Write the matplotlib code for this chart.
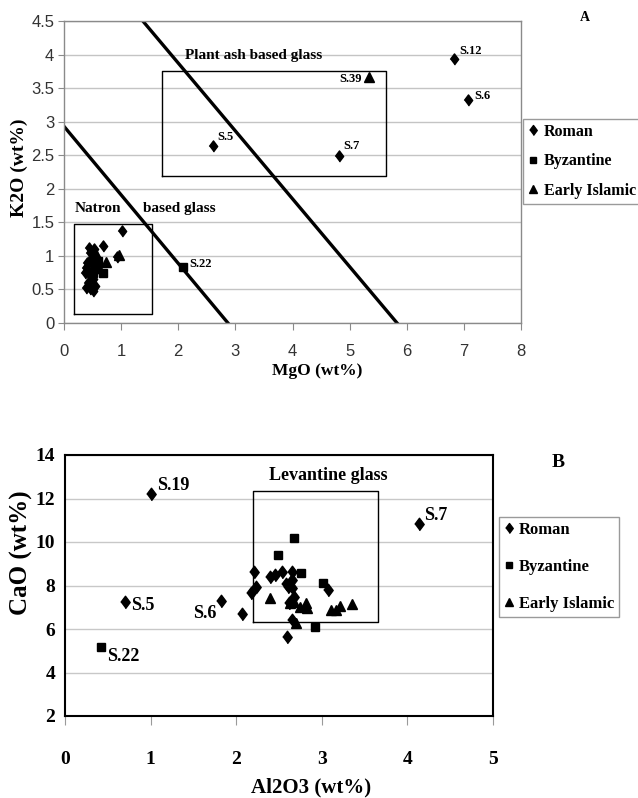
import matplotlib
matplotlib.use('Agg')
import matplotlib.pyplot as plt
from matplotlib import font_manager
from matplotlib.ticker import FuncFormatter

# fonts: Times-like serif for annotations, narrow sans for panel A ticks
_names = {f.name for f in font_manager.fontManager.ttflist}
SANS = 'Liberation Sans Narrow' if 'Liberation Sans Narrow' in _names else 'Liberation Sans'
SERIF = 'Liberation Serif'
plt.rcParams['font.family'] = [SERIF, 'DejaVu Serif']

# ---- Panel A data: MgO vs K2O (wt%) ----
roman_mgo = [0.45, 0.52, 0.55, 0.48, 0.40, 0.38, 0.42, 0.50, 0.60, 0.45, 0.50, 0.42,
             0.38, 0.45, 0.50, 0.55, 0.36, 0.44, 1.02, 0.92, 0.69, 2.61, 4.82, 6.83, 7.08]
roman_k2o = [1.05, 1.10, 1.00, 0.95, 0.90, 0.82, 0.78, 0.85, 0.88, 0.70, 0.65, 0.60,
             0.52, 0.50, 0.47, 0.55, 0.75, 1.12, 1.37, 0.99, 1.14, 2.64, 2.49, 3.93, 3.32]
byz_mgo = [0.69, 0.55, 0.60, 0.50, 2.08]
byz_k2o = [0.74, 0.80, 0.92, 0.75, 0.83]
isl_mgo = [0.97, 0.73, 0.58, 0.62, 5.34]
isl_k2o = [1.02, 0.91, 1.00, 0.82, 3.66]

# boundary lines (MgO, K2O end points)
natron_line_x = [0.0, 2.87]
natron_line_y = [2.93, 0.0]
plant_line_x = [1.38, 5.83]
plant_line_y = [4.5, 0.0]

# field boxes: (x0, x1, y0, y1)
natron_box = (0.18, 1.54, 0.13, 1.48)
plant_box = (1.72, 5.64, 2.19, 3.76)

labels_a = ['S.12', 'S.6', 'S.39', 'S.5', 'S.7', 'S.22']
labels_a_xy = [(6.83, 3.93), (7.08, 3.32), (5.34, 3.66), (2.61, 2.64), (4.82, 2.49), (2.08, 0.83)]

# ---- Panel B data: Al2O3 vs CaO (wt%) ----
roman_al = [1.00, 0.70, 1.82, 2.07, 2.21, 2.23, 2.17, 2.39, 2.45, 2.53, 2.58, 2.61,
            2.65, 2.65, 2.65, 2.62, 2.68, 2.65, 2.59, 3.07, 4.13]
roman_ca = [12.19, 7.23, 7.30, 6.70, 8.61, 7.95, 7.67, 8.40, 8.48, 8.61, 8.07, 7.95,
            8.61, 8.25, 7.87, 7.20, 7.45, 6.41, 5.65, 7.79, 10.81]
byz_al = [0.42, 2.49, 2.68, 2.76, 2.92, 3.01]
byz_ca = [5.16, 9.40, 10.17, 8.56, 6.08, 8.10]
isl_al = [2.39, 2.63, 2.68, 2.74, 2.81, 2.83, 2.70, 3.11, 3.17, 3.21, 3.35]
isl_ca = [7.41, 7.18, 7.25, 7.02, 7.18, 6.95, 6.26, 6.87, 6.87, 7.06, 7.15]

levantine_box = (2.20, 3.66, 6.34, 12.36)

labels_b = ['S.19', 'S.5', 'S.22', 'S.6', 'S.7']
labels_b_xy = [(1.00, 12.19), (0.70, 7.23), (0.42, 5.16), (1.82, 7.30), (4.13, 10.81)]

series = ['Roman', 'Byzantine', 'Early Islamic']

DIAMOND = [(-0.75, 0), (0, 1), (0.75, 0), (0, -1)]
PX = 0.72  # pixels -> points at 100 dpi


def draw_box(ax, box, lw):
    x0, x1, y0, y1 = box
    ax.plot([x0, x1, x1, x0, x0], [y0, y0, y1, y1, y0], color='black', lw=lw, zorder=2)


fig = plt.figure(figsize=(6.38, 7.98), dpi=100)

# ================= Panel A =================
ax1 = fig.add_axes([64 / 638, 1 - 323 / 798, 457 / 638, 302 / 798])
ax1.set_xlim(0, 8)
ax1.set_ylim(0, 4.5)
ax1.set_xticks(range(0, 9))
ax1.set_yticks([i * 0.5 for i in range(10)])
ax1.yaxis.set_major_formatter(FuncFormatter(lambda v, p: f'{v:g}'))
ax1.grid(axis='y', color='#c4c4c4', lw=1.0)
ax1.set_axisbelow(True)
for s in ax1.spines.values():
    s.set_color('#8a8a8a')
    s.set_linewidth(1.0)
ax1.tick_params(axis='x', length=5, color='#8a8a8a', pad=10, labelsize=12, labelcolor='#333333')
ax1.tick_params(axis='y', length=4, color='#8a8a8a', pad=3, labelsize=12, labelcolor='#333333')
for t in ax1.get_xticklabels() + ax1.get_yticklabels():
    t.set_family([SANS, 'DejaVu Sans'])

ax1.plot(natron_line_x, natron_line_y, color='black', lw=2.4, zorder=2)
ax1.plot(plant_line_x, plant_line_y, color='black', lw=2.4, zorder=2)
draw_box(ax1, natron_box, 1.0)
draw_box(ax1, plant_box, 1.0)

h1 = ax1.plot(roman_mgo, roman_k2o, ls='none', marker=DIAMOND, ms=8, color='black', zorder=3)[0]
h2 = ax1.plot(byz_mgo, byz_k2o, ls='none', marker='s', ms=5.5, color='black', zorder=3)[0]
h3 = ax1.plot(isl_mgo, isl_k2o, ls='none', marker='^', ms=7, color='black', zorder=3)[0]

offs_a = [(5, 8, 'left'), (6, 4, 'left'), (-7, -2, 'right'), (4, 9, 'left'), (4, 10, 'left'), (6, 3, 'left')]
for lab, (x, y), (dx, dy, ha) in zip(labels_a, labels_a_xy, offs_a):
    ax1.annotate(lab, (x, y), xytext=(dx * PX, dy * PX), textcoords='offset points',
                 ha=ha, va='center', fontsize=9, fontweight='bold')

ax1.text(2.12, 3.99, 'Plant ash based glass', ha='left', va='center', fontsize=11, fontweight='bold')
ax1.text(0.18, 1.71, 'Natron', ha='left', va='center', fontsize=11, fontweight='bold')
ax1.text(1.38, 1.71, 'based glass', ha='left', va='center', fontsize=11, fontweight='bold')
ax1.text(1.14, 1.01, 'A', transform=ax1.transAxes, ha='center', va='center',
         fontsize=10, fontweight='bold', clip_on=False)

ax1.set_xlabel('MgO (wt%)', fontsize=12.5, fontweight='bold', va='center')
ax1.xaxis.set_label_coords((317 - 64) / 457, (323 - 371) / 302)
ax1.set_ylabel('K2O (wt%)', fontsize=14, fontweight='bold', va='center')
ax1.yaxis.set_label_coords((19 - 64) / 457, (323 - 168) / 302)

fig.legend([h1, h2, h3], series, loc='upper left', bbox_to_anchor=(523 / 638, 1 - 119 / 798),
           frameon=True, fancybox=False, edgecolor='#9a9a9a', framealpha=1,
           prop={'family': SERIF, 'weight': 'bold', 'size': 11.5},
           handlelength=0.7, handletextpad=0.3, labelspacing=0.85, borderpad=0.3,
           borderaxespad=0, markerscale=0.9)

# ================= Panel B =================
ax2 = fig.add_axes([65 / 638, 1 - 716 / 798, 428 / 638, 261 / 798])
ax2.set_xlim(0, 5)
ax2.set_ylim(2, 14)
ax2.set_xticks(range(0, 6))
ax2.set_yticks(range(2, 15, 2))
ax2.grid(axis='y', color='#c8c8c8', lw=1.0)
ax2.set_axisbelow(True)
for s in ax2.spines.values():
    s.set_color('black')
    s.set_linewidth(1.5)
ax2.tick_params(axis='x', length=6.5, color='#9a9a9a', pad=19, labelsize=14)
ax2.tick_params(axis='y', length=0, pad=7, labelsize=14)
for t in ax2.get_xticklabels() + ax2.get_yticklabels():
    t.set_fontweight('bold')

draw_box(ax2, levantine_box, 1.0)

g1 = ax2.plot(roman_al, roman_ca, ls='none', marker=DIAMOND, ms=9, color='black', zorder=3)[0]
g2 = ax2.plot(byz_al, byz_ca, ls='none', marker='s', ms=6, color='black', zorder=3)[0]
g3 = ax2.plot(isl_al, isl_ca, ls='none', marker='^', ms=7.5, color='black', zorder=3)[0]

offs_b = [(6, 9, 'left'), (6, -3, 'left'), (6, -9, 'left'), (-4, -13, 'right'), (6, 9, 'left')]
for lab, (x, y), (dx, dy, ha) in zip(labels_b, labels_b_xy, offs_b):
    ax2.annotate(lab, (x, y), xytext=(dx * PX, dy * PX), textcoords='offset points',
                 ha=ha, va='center', fontsize=13, fontweight='bold')

ax2.text(3.08, 13.05, 'Levantine glass', ha='center', va='center', fontsize=13, fontweight='bold')
ax2.text(1.152, 0.973, 'B', transform=ax2.transAxes, ha='center', va='center',
         fontsize=14, fontweight='bold', clip_on=False)

ax2.set_xlabel('Al2O3 (wt%)', fontsize=15, fontweight='bold', va='center')
ax2.xaxis.set_label_coords((311 - 65) / 428, (716 - 787) / 261)
ax2.set_ylabel('CaO (wt%)', fontsize=18, fontweight='bold', va='center')
ax2.yaxis.set_label_coords((21 - 65) / 428, (716 - 553) / 261)

fig.legend([g1, g2, g3], series, loc='upper left', bbox_to_anchor=(499 / 638, 1 - 517 / 798),
           frameon=True, fancybox=False, edgecolor='#9a9a9a', framealpha=1,
           prop={'family': SERIF, 'weight': 'bold', 'size': 12},
           handlelength=0.6, handletextpad=0.3, labelspacing=1.25, borderpad=0.3,
           borderaxespad=0, markerscale=0.8)

fig.savefig('out.png', dpi=100)
